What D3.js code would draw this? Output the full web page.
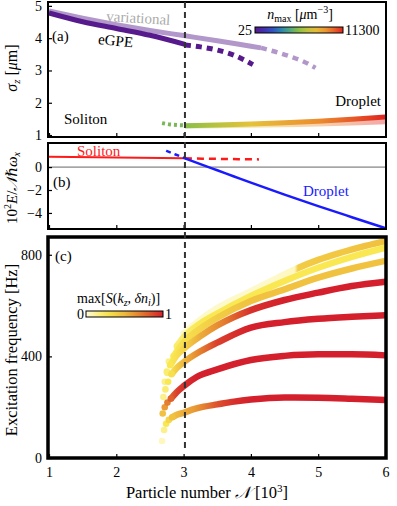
<!DOCTYPE html>
<html lang="en">
<head>
<meta charset="utf-8">
<title>Soliton to droplet crossover</title>
<script src="https://cdn.jsdelivr.net/npm/d3@7"></script>
<style>
  body{margin:0;background:#fff;}
  svg{display:block;}
  svg text{font-family:"Liberation Serif","DejaVu Serif",serif;}
</style>
</head>
<body>
<div id="chart"></div>
<script>
// ---- panel (a): width sigma_z vs N
var varSolN = [1, 1.5, 2, 2.5, 3, 3.5, 4, 4.15]
var varSolS = [4.84, 4.62, 4.42, 4.24, 4.08, 3.92, 3.75, 3.70]
var varSolDashN = [4.15, 4.41, 4.59, 4.78, 4.96]
var varSolDashS = [3.70, 3.55, 3.43, 3.28, 3.08]
var gpeSolN = [1, 1.5, 2, 2.5, 3.02]
var gpeSolS = [4.78, 4.51, 4.30, 4.09, 3.81]
var gpeSolDashN = [3.02, 3.25, 3.5, 3.75, 4.03]
var gpeSolDashS = [3.79, 3.73, 3.63, 3.47, 3.18]
var solNmax = 25
var dropN = [3.02, 3.5, 4, 4.5, 5, 5.5, 6]
var dropS = [1.29, 1.31, 1.34, 1.38, 1.43, 1.49, 1.56]
var varDropS = [1.28, 1.29, 1.30, 1.32, 1.34, 1.37, 1.41]
var dropNmax = [5600, 6600, 7600, 8500, 9400, 10300, 11300]
var dropDashN = [2.68, 2.8, 2.92, 3.02]
var dropDashS = [1.37, 1.33, 1.31, 1.30]
var dropDashNmax = 5300

// ---- panel (b): energy per particle
var eSolN = [1, 2, 3.02]
var eSolE = [0.90, 0.84, 0.76]
var eSolDashN = [3.02, 3.6, 4.12]
var eSolDashE = [0.76, 0.71, 0.67]
var eDropDashN = [2.74, 2.88, 3.02]
var eDropDashE = [1.42, 1.10, 0.76]
var eDropN = [3.02, 3.25, 3.5, 3.75, 4, 4.5, 5, 5.5, 6]
var eDropE = [0.76, 0.26, -0.28, -0.82, -1.36, -2.40, -3.40, -4.37, -5.33]

// ---- panel (c): excitation branches (N, Hz, max S)
var b1N = [2.68, 2.71, 2.74, 2.78, 2.83, 2.9, 3.0, 3.15, 3.3, 3.5, 3.75, 4, 4.5, 5, 5.5, 6]
var b1F = [67, 110, 135, 150, 160, 170, 178, 192, 202, 211, 222, 230, 238, 237, 233, 228]
var b1S = [0.05, 0.15, 0.25, 0.35, 0.45, 0.5, 0.55, 0.6, 0.7, 0.85, 0.95, 1, 1, 1, 1, 1]
var b2N = [2.69, 2.72, 2.76, 2.81, 2.9, 3.0, 3.2, 3.5, 4, 4.5, 5, 5.5, 6]
var b2F = [175, 200, 218, 233, 260, 283, 320, 349, 386, 402, 408, 408, 404]
var b2S = [0.45, 0.6, 0.7, 0.8, 0.9, 0.95, 1, 1, 1, 1, 1, 1, 1]
var b3N = [2.70, 2.73, 2.77, 2.82, 2.9, 3.0, 3.25, 3.5, 4, 4.5, 5, 5.5, 6]
var b3F = [240, 270, 300, 330, 355, 377, 420, 454, 513, 535, 548, 556, 562]
var b3S = [0.15, 0.2, 0.25, 0.3, 0.4, 0.5, 0.7, 0.9, 1, 1, 1, 1, 1]
var b4N = [2.72, 2.76, 2.8, 2.9, 3.0, 3.25, 3.5, 3.75, 4, 4.5, 5, 5.5, 6]
var b4F = [300, 335, 365, 405, 430, 480, 522, 555, 582, 622, 651, 677, 694]
var b4S = [0.15, 0.2, 0.25, 0.3, 0.35, 0.55, 0.65, 0.8, 0.95, 1, 1, 1, 1]
var b5N = [2.75, 2.85, 3.0, 3.25, 3.5, 4, 4.5, 5, 5.5, 6]
var b5F = [340, 400, 455, 510, 552, 618, 664, 710, 746, 776]
var b5S = [0.2, 0.25, 0.3, 0.35, 0.4, 0.45, 0.45, 0.45, 0.45, 0.45]
var b6N = [2.78, 2.9, 3.0, 3.25, 3.5, 4, 4.5, 5, 5.5, 6]
var b6F = [380, 440, 475, 530, 569, 638, 697, 749, 792, 828]
var b6S = [0.15, 0.2, 0.2, 0.25, 0.25, 0.25, 0.25, 0.25, 0.25, 0.25]
var b7N = [3.0, 3.25, 3.5, 4, 4.3, 4.65, 4.7, 5, 5.33, 5.7, 6]
var b7F = [490, 545, 590, 657, 697, 742, 748, 780, 808, 835, 854]
var b7S = [0.03, 0.03, 0.03, 0.03, 0.03, 0.05, 0.4, 0.42, 0.42, 0.45, 0.45]

var nTicks = [1, 2, 3, 4, 5, 6]
var aTicks = [1, 2, 3, 4, 5]
var bTicks = [-4, -2, 0]
var cTicks = [0, 400, 800]
var nCross = 3.02

var W = 397, H = 506
var svg = d3.select("#chart").append("svg").attr("width", W).attr("height", H)
  .attr("font-family", "Liberation Serif, DejaVu Serif, serif")
var defs = svg.append("defs")

var x = d3.scaleLinear().domain([1, 6]).range([49, 385.5])
var yA = d3.scaleLinear().domain([0.94, 5.12]).range([137, 2])
var yB = d3.scaleLinear().domain([-5.4, 2.1]).range([229, 143])
var yC = d3.scaleLinear().domain([0, 870]).range([458, 237])

var nmaxColor = d3.scaleSequential(d3.piecewise(d3.interpolateRgb,
  ["#561a8c", "#3440c6", "#2a98a6", "#8dc044", "#e5c43a", "#ec8c2f", "#e0231f"])).domain([25, 11300])
var sColor = d3.scaleSequential(d3.piecewise(d3.interpolateRgb,
  ["#fffbdc", "#f9e852", "#eeb93c", "#e2712c", "#d4202c"])).domain([0, 1])

var gid = 0
function colorLine(g, xs, ys, y, cols, width, dash, op){
  var id = "grad" + (gid++)
  var x0 = x(xs[0]), x1 = x(xs[xs.length - 1])
  var grad = defs.append("linearGradient").attr("id", id).attr("gradientUnits", "userSpaceOnUse")
    .attr("x1", x0).attr("x2", x1).attr("y1", 0).attr("y2", 0)
  xs.forEach(function(n, i){
    grad.append("stop").attr("offset", (x(n) - x0) / (x1 - x0)).attr("stop-color", cols[i])
  })
  var line = d3.line().x(function(d){return x(d[0])}).y(function(d){return y(d[1])}).curve(d3.curveMonotoneX)
  return g.append("path").datum(d3.zip(xs, ys)).attr("d", line).attr("fill", "none")
    .attr("stroke", "url(#" + id + ")").attr("stroke-width", width)
    .attr("stroke-dasharray", dash || null).attr("opacity", op || 1)
}
function plainLine(g, xs, ys, y, col, width, dash){
  var line = d3.line().x(function(d){return x(d[0])}).y(function(d){return y(d[1])}).curve(d3.curveMonotoneX)
  return g.append("path").datum(d3.zip(xs, ys)).attr("d", line).attr("fill", "none")
    .attr("stroke", col).attr("stroke-width", width).attr("stroke-dasharray", dash || null)
}
function clip(id, y0, y1){
  defs.append("clipPath").attr("id", id).append("rect").attr("x", 48).attr("y", y0).attr("width", 338).attr("height", y1 - y0)
  return svg.append("g").attr("clip-path", "url(#" + id + ")")
}
function leftAxis(y, ticks){
  var g = svg.append("g").attr("transform", "translate(48,0)")
    .call(d3.axisLeft(y).tickValues(ticks).tickSize(-4).tickPadding(6).tickFormat(d3.format("d")))
  g.attr("font-size", 14).attr("font-family", null)
  g.select(".domain").remove()
  g.selectAll("line").attr("stroke-width", 1.2)
  return g
}
function bottomTicks(yPix, labels){
  var ax = d3.axisBottom(x).tickValues(nTicks).tickSize(-4).tickPadding(9).tickFormat(labels ? d3.format("d") : "")
  var g = svg.append("g").attr("transform", "translate(0," + yPix + ")").call(ax)
  g.attr("font-size", 14).attr("font-family", null)
  g.select(".domain").remove()
  g.selectAll("line").attr("stroke-width", 1.2)
}
function frame(y0, y1, sw){
  svg.append("rect").attr("x", 48).attr("y", y0).attr("width", 338).attr("height", y1 - y0)
    .attr("fill", "none").attr("stroke", "#000").attr("stroke-width", sw)
}

// ================= panel (a)
var gA = clip("clipA", 2, 137)
var sol = nmaxColor(solNmax)
var vGroup = gA.append("g").attr("opacity", 0.45)
plainLine(vGroup, varSolN, varSolS, yA, sol, 5)
plainLine(vGroup, varSolDashN, varSolDashS, yA, sol, 4.5, "6,5")
plainLine(gA, gpeSolN, gpeSolS, yA, sol, 5)
plainLine(gA, gpeSolDashN, gpeSolDashS, yA, sol, 5, "6,5")
colorLine(gA, dropN, varDropS, yA, dropNmax.map(nmaxColor), 5, null, 0.4)
colorLine(gA, dropN, dropS, yA, dropNmax.map(nmaxColor), 5)
plainLine(gA, dropDashN, dropDashS, yA, nmaxColor(dropDashNmax), 4, "3,3")

leftAxis(yA, aTicks)
bottomTicks(137, false)
frame(2, 137, 2)

svg.append("text").attr("x", 52).attr("y", 41).attr("font-size", 15).text("(a)")
svg.append("text").attr("x", 98).attr("y", 46).attr("font-size", 15).attr("transform", "rotate(6,118,42)").text("eGPE")
svg.append("text").attr("x", 106).attr("y", 21).attr("font-size", 15).attr("fill", "#ababab").attr("transform", "rotate(3.5,106,21)").text("variational")
svg.append("text").attr("x", 64).attr("y", 124).attr("font-size", 15).text("Soliton")
svg.append("text").attr("x", 381).attr("y", 106).attr("font-size", 15).attr("text-anchor", "end").text("Droplet")

// n_max colorbar
var cbA = defs.append("linearGradient").attr("id", "cbA")
d3.range(0, 1.01, 0.1).forEach(function(t){
  cbA.append("stop").attr("offset", t).attr("stop-color", nmaxColor(25 + t * (11300 - 25)))
})
svg.append("rect").attr("x", 255).attr("y", 27).attr("width", 88).attr("height", 6)
  .attr("fill", "url(#cbA)").attr("stroke", "#000").attr("stroke-width", 1)
svg.append("text").attr("x", 252).attr("y", 35).attr("font-size", 14).attr("text-anchor", "end").text("25")
svg.append("text").attr("x", 345).attr("y", 35).attr("font-size", 14).text("11300")
var tA = svg.append("text").attr("x", 300).attr("y", 19).attr("font-size", 14).attr("text-anchor", "middle")
tA.append("tspan").attr("font-style", "italic").text("n")
tA.append("tspan").attr("font-size", 10).attr("dy", 3).text("max")
tA.append("tspan").attr("dy", -3).text(" [")
tA.append("tspan").attr("font-style", "italic").text("μ")
tA.append("tspan").text("m")
tA.append("tspan").attr("font-size", 10).attr("dy", -6).text("−3")
tA.append("tspan").attr("dy", 6).text("]")

var lA = svg.append("text").attr("transform", "translate(17,68) rotate(-90)").attr("text-anchor", "middle").attr("font-size", 16)
lA.append("tspan").attr("font-style", "italic").text("σ")
lA.append("tspan").attr("font-style", "italic").attr("font-size", 11).attr("dy", 3).text("z")
lA.append("tspan").attr("dy", -3).text(" [")
lA.append("tspan").attr("font-style", "italic").text("μ")
lA.append("tspan").text("m]")

// ================= panel (b)
var gB = clip("clipB", 143, 229)
gB.append("line").attr("x1", 48).attr("x2", 386).attr("y1", yB(0)).attr("y2", yB(0)).attr("stroke", "#666").attr("stroke-width", 1)
plainLine(gB, eSolN, eSolE, yB, "#ff1a1a", 2)
plainLine(gB, eSolDashN, eSolDashE, yB, "#ff1a1a", 2.5, "7,5")
plainLine(gB, eDropDashN, eDropDashE, yB, "#1a1aff", 2.5, "5,4")
plainLine(gB, eDropN, eDropE, yB, "#1a1aff", 2.5)
leftAxis(yB, bTicks)
bottomTicks(229, false)
frame(143, 229, 2)
svg.append("text").attr("x", 77).attr("y", 156).attr("font-size", 15).attr("fill", "#ff1a1a").text("Soliton")
svg.append("text").attr("x", 303).attr("y", 196).attr("font-size", 15).attr("fill", "#1a1aff").text("Droplet")
svg.append("text").attr("x", 53).attr("y", 187).attr("font-size", 15).text("(b)")
var lB = svg.append("text").attr("transform", "translate(17,188) rotate(-90)").attr("text-anchor", "middle").attr("font-size", 15)
lB.append("tspan").text("10")
lB.append("tspan").attr("font-size", 10).attr("dy", -6).text("2")
lB.append("tspan").attr("dy", 6).attr("font-style", "italic").text("E")
lB.append("tspan").text("/")
lB.append("tspan").attr("font-style", "italic").text("𝒩ℏω")
lB.append("tspan").attr("font-style", "italic").attr("font-size", 10).attr("dy", 3).text("x")

// ================= panel (c)
var gC = clip("clipC", 237, 458)
var branches = [[b7N, b7F, b7S], [b6N, b6F, b6S], [b5N, b5F, b5S], [b4N, b4F, b4S],
                [b3N, b3F, b3S], [b2N, b2F, b2S], [b1N, b1F, b1S]]
branches.forEach(function(b){
  var n = b[0], f = b[1], s = b[2]
  var k = n.findIndex(function(v){return v >= 2.8})
  colorLine(gC, n.slice(k), f.slice(k), yC, s.slice(k).map(sColor), 6.5)
  gC.selectAll(null).data(d3.zip(n, f, s).slice(0, k + 1)).enter().append("circle")
    .attr("cx", function(d){return x(d[0])}).attr("cy", function(d){return yC(d[1])})
    .attr("r", 3.3).attr("fill", function(d){return sColor(d[2])})
})
leftAxis(yC, cTicks)
bottomTicks(458, true)
frame(237, 458, 3.5)
svg.append("text").attr("x", 55).attr("y", 261).attr("font-size", 15).text("(c)")

var cbC = defs.append("linearGradient").attr("id", "cbC")
d3.range(0, 1.01, 0.1).forEach(function(t){
  cbC.append("stop").attr("offset", t).attr("stop-color", sColor(t))
})
svg.append("rect").attr("x", 86).attr("y", 311).attr("width", 77).attr("height", 6)
  .attr("fill", "url(#cbC)").attr("stroke", "#000").attr("stroke-width", 1)
svg.append("text").attr("x", 84).attr("y", 319).attr("font-size", 14).attr("text-anchor", "end").text("0")
svg.append("text").attr("x", 165).attr("y", 319).attr("font-size", 14).text("1")
var tC = svg.append("text").attr("x", 77).attr("y", 303).attr("font-size", 14)
tC.append("tspan").text("max[")
tC.append("tspan").attr("font-style", "italic").text("S")
tC.append("tspan").text("(")
tC.append("tspan").attr("font-style", "italic").text("k")
tC.append("tspan").attr("font-style", "italic").attr("font-size", 10).attr("dy", 3).text("z")
tC.append("tspan").attr("dy", -3).text(", ")
tC.append("tspan").attr("font-style", "italic").text("δn")
tC.append("tspan").attr("font-style", "italic").attr("font-size", 10).attr("dy", 3).text("i")
tC.append("tspan").attr("dy", -3).text(")]")

svg.append("text").attr("transform", "translate(17,350) rotate(-90)").attr("text-anchor", "middle").attr("font-size", 16.5)
  .text("Excitation frequency [Hz]")
var lX = svg.append("text").attr("x", 207).attr("y", 498).attr("text-anchor", "middle").attr("font-size", 16.5)
lX.append("tspan").text("Particle number ")
lX.append("tspan").attr("font-style", "italic").text("𝒩")
lX.append("tspan").text(" [10")
lX.append("tspan").attr("font-size", 11).attr("dy", -6).text("3")
lX.append("tspan").attr("dy", 6).text("]")

// crossover line through all panels
svg.append("line").attr("x1", x(nCross)).attr("x2", x(nCross)).attr("y1", 2).attr("y2", 448)
  .attr("stroke", "#333").attr("stroke-width", 2).attr("stroke-dasharray", "6,4")
</script>
</body>
</html>
